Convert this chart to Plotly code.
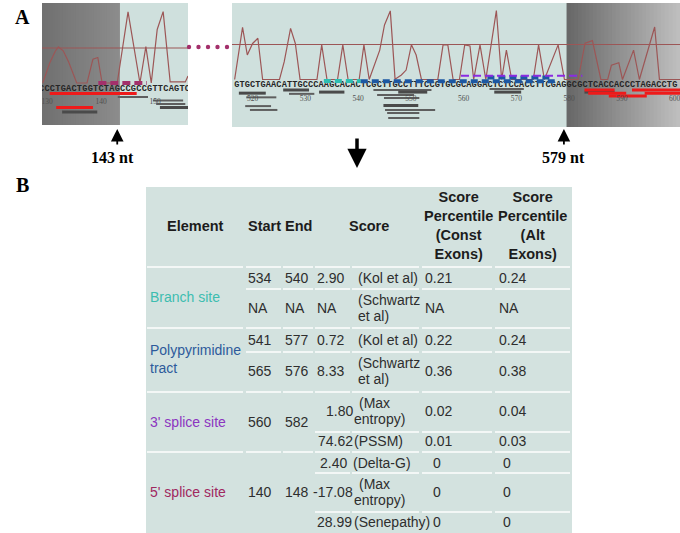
import plotly.graph_objects as go

W, H = 680, 533

# ---------------- Panel A data ----------------
# splicing-signal score trace, left window (nt position, score)
left_pos = [129.2, 130.5, 131.5, 132.1, 133.0, 134.0, 135.5, 137.4, 138.5, 139.4, 140.2,
            143.0, 145.0, 147.2, 148.3, 149.3, 150.4, 151.5, 152.8, 155.6, 156.1]
left_score = [0.0, 0.57, 0.9, 1.03, 0.92, 0.6, 0.0, 0.0, 0.68, 0.73, 0.0,
              0.0, 2.03, 0.0, 1.04, 0.0, 1.53, 2.04, 0.03, 0.03, 0.2]

# right window
right_pos = [516.6, 518.1, 519.0, 520.0, 521.0, 521.9, 525.1, 526.0, 527.2, 528.1, 529.0,
             532.2, 533.1, 534.1, 536.1, 537.1, 538.1, 540.2, 541.1, 542.1, 544.1, 545.0,
             546.1, 547.0, 548.2, 549.1, 550.1, 551.0, 552.0, 555.1, 556.1, 557.0, 558.0,
             559.2, 560.2, 561.2, 561.9, 563.1, 564.2, 566.2, 567.2, 568.1, 569.1, 573.2,
             574.2, 575.3, 577.9, 579.1, 581.7, 583.0, 584.4, 586.0, 587.3, 588.0, 589.4,
             590.1, 592.2, 593.3, 596.2, 597.1, 601.0]
right_score = [0, 1.49, 0.70, 1.03, 1.18, 0, 0, 0.51, 1.46, 1.03, 0,
               0, 0.99, 0, 0, 0.99, 0, 0, 0.99, 0, 0.84, 1.56,
               1.96, 0.01, 0.13, 0.27, 0.99, 0.70, 0, 0, 0.99, 0.99, 0,
               0, 0.99, 0.96, 0, 0.99, 0, 1.97, 0, 0.84, 0, 0,
               0.99, 0, 0.99, 0, 0, 1.04, 1.11, 0, 0, 0.41, 0.48,
               0, 0.84, 0, 1.50, 0, 0]
threshold = 1.0

left_seq_start = 129
left_seq = "CCCTGACTGGTCTAGCCGCCGTTCAGTC"
right_seq_start = 517
right_seq = "GTGCTGAACATTGCCCAAGCACACTCGCTTGCCTTTCCGTGC" + "GCAGGACTCTCCACCTTCGAGGCGCTCACCACCCTAGACCTG"

left_ticks = [130, 140, 150]
right_ticks = [520, 530, 540, 550, 560, 570, 580, 590, 600]

exon_end_left = 143      # "143 nt"
exon_start_right = 579   # "579 nt"
left_window = [129.07, 156.1]
right_window = [516.1, 601.0]

# predicted elements drawn as dashed marks on the sequence
site_names = ["Branch site", "Polypyrimidine tract (Kol)", "Polypyrimidine tract (Schwartz)",
              "3' splice site", "5' splice site"]
site_start = [534, 541, 565, 560, 140]
site_end = [540, 577, 576, 582, 148]
site_panel = ["R", "R", "R", "R", "L"]

# motif hits below the sequence
left_hit_start = [130.5, 143.1, 131.7, 132.8, 149.6, 150.2, 150.9]
left_hit_end = [146.6, 148.7, 138.5, 139.3, 155.2, 155.6, 156.1]
left_hit_lane = [0, 1, 4, 5.3, 2, 3, 4]
left_hit_kind = ["red", "gray_thin", "red", "gray", "gray_thin", "gray_thin", "gray"]

right_hit_start = [517.4, 518.8, 518.6, 519.5, 525.8, 526.9, 532.6, 542.9, 547.6, 543.6, 544.9,
                   544.8, 545.1, 545.5, 545.7, 564.9, 565.8, 582.9, 582.9, 583.6, 587.5, 591.9, 594.3]
right_hit_end = [522.5, 524.5, 523.5, 524.7, 530.7, 531.7, 537.4, 553.9, 553.1, 550.6, 551.6,
                 551.4, 554.6, 551.6, 551.6, 571.4, 570.9, 588.6, 588.6, 590.8, 594.7, 601.0, 601.0]
right_hit_lane = [0.9, 2.1, 4.6, 5.7, 0.0, 1.1, 0.6, 0.0, 0.6, 1.4, 2.3,
                  4.4, 5.7, 6.6, 8.0, -0.3, 0.6, 0.6, 0.0, 0.9, 1.7, 0.0, 0.9]
right_hit_kind = ["gray", "gray_thin", "gray_thin", "gray_thin", "gray", "gray_thin", "gray",
                  "gray_thin", "gray", "gray_thin", "gray_thin", "gray", "gray_thin", "gray_thin",
                  "gray_thin", "gray_thin", "gray", "gray", "red", "red", "red", "red", "red"]

# ---------------- Panel B data ----------------
element_names = ["Branch site", "Polypyrimidine<br>tract", "3' splice site", "5' splice site"]
group_start = ["534", "NA", "541", "565", "560", "140"]
group_end = ["540", "NA", "577", "576", "582", "148"]
score_vals = ["2.90", "NA", "0.72", "8.33", "1.80", "74.62", "2.40", "-17.08", "28.99"]
score_methods = [["(Kol et al)"], ["(Schwartz", "et al)"], ["(Kol et al)"], ["(Schwartz", "et al)"],
                 ["(Max", "entropy)"], ["(PSSM)"], ["(Delta-G)"], ["(Max", "entropy)"], ["(Senepathy)"]]
pct_const = ["0.21", "NA", "0.22", "0.36", "0.02", "0.01", "0", "0", "0"]
pct_alt = ["0.24", "NA", "0.24", "0.38", "0.04", "0.03", "0", "0", "0"]
headers = ["Element", "Start", "End", "Score",
           "Score<br>Percentile<br>(Const<br>Exons)", "Score<br>Percentile<br>(Alt<br>Exons)"]

# ---------------- styles ----------------
TRACE_C = "#9c5656"
TEAL_BG = "#cfe0dd"
TABLE_BG = "#d3e2df"
site_color = ["#2cbfb2", "#1d58a3", "#1d58a3", "#8a2be2", "#a3306b"]
site_yoff = [-0.04, -0.05, 0.06, 0.11, 0.0]
site_width = [4, 4, 4, 2, 4]
site_dash = ["7px,4px", "7px,4px", "7px,4px", "8px,4px", "8px,4px"]
hit_style = {"red": ("#ee1a1a", 3), "gray": ("#4a4a4a", 3), "gray_thin": ("#5e5e5e", 2)}
element_colors = ["#3dbdb0", "#2d5a9b", "#8c35bf", "#a0285f"]
TXT = "#2e2e2e"
SANS = "Liberation Sans, Arial, sans-serif"
SERIF = "Liberation Serif, Times New Roman, serif"
MONO = "Liberation Mono, Courier New, monospace"


def px(x):
    return x / W


def py(y):
    return 1 - y / H


def lane_y(l):
    return -(10.5 + 3.5 * l) / 35.0


fig = go.Figure()

# panel backgrounds
shapes = []
for xa, ya in (("x", "y"), ("x2", "y2")):
    shapes.append(dict(type="rect", xref=xa + " domain", yref=ya + " domain", x0=0, x1=1, y0=0, y1=1,
                       fillcolor=TEAL_BG, line=dict(width=0), layer="below"))


def gradient(xref, yref, a, b, c0, c1, n=30):
    step = (b - a) / n
    for i in range(n):
        t = i / (n - 1)
        g = int(round(c0 + (c1 - c0) * t))
        x1 = b if i == n - 1 else a + step * (i + 1.6)
        shapes.append(dict(type="rect", xref=xref, yref=yref + " domain",
                           x0=a + step * i, x1=x1, y0=0, y1=1,
                           fillcolor=f"rgb({g},{g},{g})", line=dict(width=0), layer="below"))


gradient("x", "y", left_window[0], exon_end_left + 0.5, 112, 140)
gradient("x2", "y2", exon_start_right + 0.5, right_window[1], 104, 190)

# threshold lines
for xa, ya in (("x", "y"), ("x2", "y2")):
    shapes.append(dict(type="line", xref=xa + " domain", yref=ya, x0=0, x1=1, y0=threshold, y1=threshold,
                       line=dict(color=TRACE_C, width=1.2)))

# score traces
fig.add_trace(go.Scatter(x=left_pos, y=left_score, mode="lines", line=dict(color=TRACE_C, width=1.2),
                         xaxis="x", yaxis="y", showlegend=False, hoverinfo="skip"))
fig.add_trace(go.Scatter(x=right_pos, y=right_score, mode="lines", line=dict(color=TRACE_C, width=1.2),
                         xaxis="x2", yaxis="y2", showlegend=False, hoverinfo="skip"))


# hits
def add_hits(starts, ends, lanes, kinds, xa, ya):
    for kind in ("gray_thin", "gray", "red"):
        xs, ys = [], []
        for s, e, l, k in zip(starts, ends, lanes, kinds):
            if k == kind:
                xs += [s, e, None]
                ys += [lane_y(l), lane_y(l), None]
        col, w = hit_style[kind]
        fig.add_trace(go.Scatter(x=xs, y=ys, mode="lines", line=dict(color=col, width=w),
                                 xaxis=xa, yaxis=ya, showlegend=False, hoverinfo="skip"))


add_hits(left_hit_start, left_hit_end, left_hit_lane, left_hit_kind, "x", "y")
add_hits(right_hit_start, right_hit_end, right_hit_lane, right_hit_kind, "x2", "y2")

# sequences
for seq, st, xa, ya in ((left_seq, left_seq_start, "x", "y"), (right_seq, right_seq_start, "x2", "y2")):
    fig.add_trace(go.Scatter(x=[st + i for i in range(len(seq))], y=[-0.16] * len(seq), mode="text",
                             text=list(seq), textfont=dict(family=MONO, size=8.6, color="#262626",
                                                           weight="bold"),
                             cliponaxis=True, xaxis=xa, yaxis=ya, showlegend=False, hoverinfo="skip"))

# position labels
for ticks, xa, ya in ((left_ticks, "x", "y"), (right_ticks, "x2", "y2")):
    fig.add_trace(go.Scatter(x=ticks, y=[-0.55] * len(ticks), mode="text", text=[str(t) for t in ticks],
                             textfont=dict(family=SERIF, size=7.5, color="#505050"), cliponaxis=True,
                             xaxis=xa, yaxis=ya, showlegend=False, hoverinfo="skip"))

# element marks
for i in range(len(site_names)):
    xa, ya = ("x", "y") if site_panel[i] == "L" else ("x2", "y2")
    fig.add_trace(go.Scatter(x=[site_start[i] - 0.5, site_end[i] + 0.5], y=[site_yoff[i]] * 2, mode="lines",
                             line=dict(color=site_color[i], width=site_width[i], dash=site_dash[i]),
                             xaxis=xa, yaxis=ya, showlegend=False, hoverinfo="skip", name=site_names[i]))

# dotted connector
for i in range(5):
    cx, cy, r = 189 + 9.5 * i, 47, 2.2
    shapes.append(dict(type="circle", xref="paper", yref="paper", x0=px(cx - r), x1=px(cx + r),
                       y0=py(cy + r), y1=py(cy - r), fillcolor="#a3306b", line=dict(width=0)))

annotations = []


def label(text, x, y, size, family=SERIF, color="black"):
    annotations.append(dict(text=text, x=px(x), y=py(y), xref="paper", yref="paper", showarrow=False,
                            xanchor="center", yanchor="middle", borderpad=0,
                            font=dict(family=family, size=size, color=color)))


label("<b>A</b>", 22, 17, 20)
label("<b>B</b>", 22, 185, 20)
label(f"<b>{exon_end_left} nt</b>", 112, 158, 16)
label(f"<b>{exon_start_right} nt</b>", 563, 158, 16)

# arrows
annotations.append(dict(text="", x=exon_end_left, xref="x", y=py(129), yref="paper", showarrow=True,
                        ax=0, ay=17, arrowhead=2, arrowsize=1.4, arrowwidth=1.8, arrowcolor="black"))
annotations.append(dict(text="", x=exon_start_right, xref="x2", y=py(129), yref="paper", showarrow=True,
                        ax=0, ay=17, arrowhead=2, arrowsize=1.4, arrowwidth=1.8, arrowcolor="black"))
annotations.append(dict(text="", x=px(357), y=py(168), xref="paper", yref="paper", showarrow=True,
                        ax=0, ay=-31, arrowhead=2, arrowsize=1.1, arrowwidth=3.5, arrowcolor="black"))

# ---------------- table ----------------
shapes.append(dict(type="rect", xref="paper", yref="paper", x0=px(146), x1=px(572), y0=py(540), y1=py(187),
                   fillcolor=TABLE_BG, line=dict(width=0), layer="below"))
cols = [(147, 243), (246, 281), (283, 313), (315, 350), (352, 419), (422, 492), (495, 570)]
sep_lines = [(267, 0), (289, 1), (328, 0), (352, 1), (392, 0), (432, 3), (452, 0), (473, 3), (512, 3)]
for yy, c0 in sep_lines:
    for a, b in cols[c0:]:
        shapes.append(dict(type="line", xref="paper", yref="paper", x0=px(a), x1=px(b), y0=py(yy), y1=py(yy),
                           line=dict(color="#f3f7f6", width=2)))


def ann(text, x, y, color=TXT, size=14, xanchor="left", bold=False, align="left"):
    annotations.append(dict(text=(f"<b>{text}</b>" if bold else text), x=px(x), y=py(y), xref="paper",
                            yref="paper", xanchor=xanchor, yanchor="middle", showarrow=False, borderpad=0,
                            align=align, font=dict(family=SANS, size=size, color=color)))


HDR_C = "#1c1c1c"
hdr_x = [196, 247, 284, 369, 458, 532]
hdr_anchor = ["center", "left", "left", "center", "center", "center"]
for h, x, a in zip(headers, hdr_x, hdr_anchor):
    ann(h, x, 226, color=HDR_C, size=14.5, xanchor=a, bold=True, align="center")

element_y = [297, 359, 422, 492]
for name, col, y in zip(element_names, element_colors, element_y):
    ann(name, 149, y, color=col)

group_y = [278, 308, 340, 371, 422, 492]
for s, e, y in zip(group_start, group_end, group_y):
    ann(s, 247, y)
    ann(e, 284, y)

row_y = [278, 308, 340, 371, 411, 441, 463, 492, 522]
score_x = [316, 316, 316, 316, 325, 317, 319, 312, 316]
method_x = [357, 357, 357, 357, 353, 353, 352, 353, 353]
const_x = [424, 424, 424, 424, 424, 424, 432, 432, 432]
alt_x = [498, 498, 498, 498, 498, 498, 502, 502, 502]
for i, y in enumerate(row_y):
    ann(score_vals[i], score_x[i], y)
    lines = score_methods[i]
    if len(lines) == 1:
        ann(lines[0], method_x[i], y)
    else:
        first_x = method_x[i] + (5 if lines[0] == "(Max" else 0)
        ann(lines[0], first_x, y - 8)
        ann(lines[1], method_x[i], y + 8)
    ann(pct_const[i], const_x[i], y)
    ann(pct_alt[i], alt_x[i], y)

fig.update_layout(
    width=W, height=H, autosize=False,
    margin=dict(l=0, r=0, t=0, b=0),
    paper_bgcolor="white", plot_bgcolor="rgba(0,0,0,0)",
    showlegend=False, hovermode=False,
    xaxis=dict(domain=[px(42), px(188)], range=left_window, visible=False, anchor="y"),
    yaxis=dict(domain=[py(125), py(3)], range=[-1.2, 2.2857], visible=False, anchor="x"),
    xaxis2=dict(domain=[px(232), 1.0], range=right_window, visible=False, anchor="y2"),
    yaxis2=dict(domain=[py(127), py(3)], range=[-1.357, 2.1857], visible=False, anchor="x2"),
    shapes=shapes, annotations=annotations,
)

fig.write_html("out.html", config={"displayModeBar": False, "staticPlot": True},
               post_script="document.body.style.margin='0';document.body.style.overflow='hidden';")
